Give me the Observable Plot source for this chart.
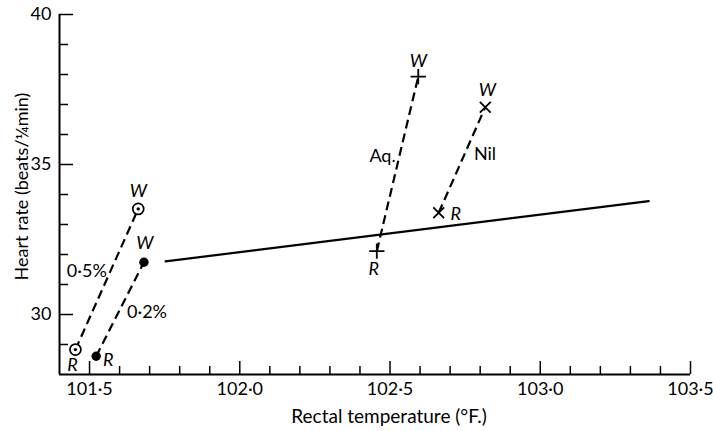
<!DOCTYPE html>
<html>
<head>
<meta charset="utf-8">
<script src="https://cdn.jsdelivr.net/npm/d3@7"></script>
<script src="https://cdn.jsdelivr.net/npm/@observablehq/plot@0.6"></script>
<style>
  html, body { margin: 0; padding: 0; background: #fff; }
  #chart { width: 713px; height: 431px; }
</style>
</head>
<body>
<div id="chart"></div>
<script>
// Heart rate against rectal temperature: resting (R) and warmed (W) readings
const series = ["0·5%", "0·2%", "Aq.", "Nil"];
const restTemp = [101.453, 101.522, 102.456, 102.662];
const restRate = [28.83, 28.61, 32.11, 33.39];
const warmTemp = [101.662, 101.681, 102.594, 102.817];
const warmRate = [33.52, 31.74, 37.93, 36.91];

// Fitted line through the untreated animals
const fitTemp = [101.753, 103.361];
const fitRate = [31.77, 33.78];

// Axis ticks
const xMajor = [101.5, 102.0, 102.5, 103.0, 103.5];
const xMinor = d3.range(16, 36).map(i => i / 10 + 100).filter(t => !xMajor.some(m => Math.abs(m - t) < 1e-6));
const yMajor = [30, 35, 40];
const yMinor = [29, 31, 32, 33, 34, 36, 37, 38, 39];

const xTitle = "Rectal temperature (°F.)";
const yTitle = "Heart rate (beats/¼min)";

// Marker style per series
const markerStyle = {
  "0·5%": "ringdot",
  "0·2%": "filled",
  "Aq.": "plus",
  "Nil": "times"
};
// Label offsets (px) per series: series name near the segment midpoint, W above, R below
const nameOffset = {"0·5%": [-20, -8], "0·2%": [27, 3], "Aq.": [-15, -8], "Nil": [23, -6]};
const wOffset = {"0·5%": [0, -18], "0·2%": [1, -19], "Aq.": [0, -15], "Nil": [2, -17]};
const rOffset = {"0·5%": [-3, 16], "0·2%": [12, 4], "Aq.": [-3, 18], "Nil": [17, 1]};

const rows = series.map((s, i) => ({
  s,
  rt: restTemp[i], rr: restRate[i],
  wt: warmTemp[i], wr: warmRate[i],
  mt: (restTemp[i] + warmTemp[i]) / 2, mr: (restRate[i] + warmRate[i]) / 2
}));
const fit = fitTemp.map((t, i) => ({t, r: fitRate[i]}));

const font = "Lato, 'Open Sans', sans-serif";
const fmt = d => d.toFixed(1).replace(".", "·");

const labelMarks = [];
for (const r of rows) {
  labelMarks.push(Plot.text([r], {x: "mt", y: "mr", text: d => d.s, dx: nameOffset[r.s][0], dy: nameOffset[r.s][1], fontSize: 18}));
  labelMarks.push(Plot.text([r], {x: "wt", y: "wr", text: () => "W", dx: wOffset[r.s][0], dy: wOffset[r.s][1], fontSize: 18, fontStyle: "italic"}));
  labelMarks.push(Plot.text([r], {x: "rt", y: "rr", text: () => "R", dx: rOffset[r.s][0], dy: rOffset[r.s][1], fontSize: 18, fontStyle: "italic"}));
}

const points = rows.flatMap(r => [
  {s: r.s, t: r.rt, v: r.rr},
  {s: r.s, t: r.wt, v: r.wr}
]);

const chart = Plot.plot({
  width: 713,
  height: 431,
  marginLeft: 59,
  marginRight: 23,
  marginTop: 14,
  marginBottom: 57,
  x: {domain: [101.4, 103.5], axis: null},
  y: {domain: [28, 40], axis: null},
  style: {fontFamily: font, fontSize: "16px", color: "#000", background: "#fff", overflow: "visible"},
  marks: [
    // axis lines
    Plot.ruleY([28], {stroke: "#000", strokeWidth: 2}),
    Plot.ruleX([101.4], {stroke: "#000", strokeWidth: 2}),
    // inward ticks
    Plot.tickX(xMajor, {x: d => d, insetTop: 360 - 13, stroke: "#000", strokeWidth: 1.5}),
    Plot.tickX(xMinor, {x: d => d, insetTop: 360 - 8, stroke: "#000", strokeWidth: 1.5}),
    Plot.tickY(yMajor, {y: d => d, insetRight: 631 - 14, stroke: "#000", strokeWidth: 1.5}),
    Plot.tickY(yMinor, {y: d => d, insetRight: 631 - 9, stroke: "#000", strokeWidth: 1.5}),
    // tick labels
    Plot.text(xMajor, {x: d => d, frameAnchor: "bottom", dy: 20, text: fmt, fontSize: 18}),
    Plot.text(yMajor, {y: d => d, frameAnchor: "left", dx: -8, textAnchor: "end", text: d => String(d), fontSize: 18}),
    // axis titles
    Plot.text([xTitle], {frameAnchor: "bottom", dx: 14, dy: 48, text: d => d, fontSize: 19}),
    Plot.text([yTitle], {frameAnchor: "left", textAnchor: "middle", dx: -37, dy: -8, rotate: -90, text: d => d, fontSize: 18}),
    // fitted line
    Plot.line(fit, {x: "t", y: "r", stroke: "#000", strokeWidth: 2.2}),
    // rest → warm segments
    Plot.link(rows, {x1: "rt", y1: "rr", x2: "wt", y2: "wr", stroke: "#000", strokeWidth: 2.2, strokeDasharray: "9,5"}),
    // markers
    Plot.dot(points.filter(p => markerStyle[p.s] === "ringdot"), {x: "t", y: "v", r: 5.5, fill: "#fff", stroke: "#000", strokeWidth: 1.7}),
    Plot.dot(points.filter(p => markerStyle[p.s] === "ringdot"), {x: "t", y: "v", r: 1.7, fill: "#000"}),
    Plot.dot(points.filter(p => markerStyle[p.s] === "filled"), {x: "t", y: "v", r: 4.7, fill: "#000"}),
    Plot.dot(points.filter(p => markerStyle[p.s] === "plus"), {x: "t", y: "v", symbol: "plus", r: 5, stroke: "#000", strokeWidth: 1.8}),
    Plot.dot(points.filter(p => markerStyle[p.s] === "times"), {x: "t", y: "v", symbol: "times", r: 5, stroke: "#000", strokeWidth: 1.8}),
    ...labelMarks
  ]
});
document.getElementById("chart").appendChild(chart);
</script>
</body>
</html>
